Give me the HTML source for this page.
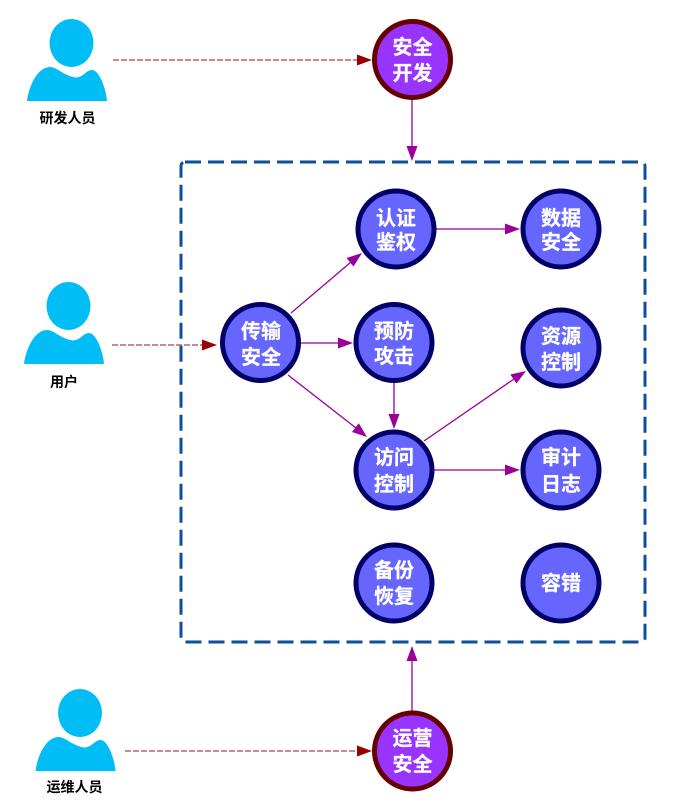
<!DOCTYPE html>
<html><head><meta charset="utf-8"><style>
html,body{margin:0;padding:0;background:#fff}
svg{display:block}
text{font-family:"Liberation Sans","Noto Sans CJK SC",sans-serif;text-anchor:middle}
.n{font-size:20px;font-weight:700;fill:#fff;stroke:#fff;stroke-width:.25}
.l{font-size:14px;font-weight:700;fill:#000}
.c{fill:#6666ff;stroke:#000066;stroke-width:5}
.p{fill:#9933ff;stroke:#660000;stroke-width:5}
.a{stroke:#990099;stroke-width:1.3;fill:none}
.ah{fill:#990099}
.d{stroke:#990000;stroke-width:1.3;stroke-dasharray:6 2;fill:none;opacity:.75}
.dh{fill:#990000}
.b{fill:#00bef5}
</style></head><body>
<svg width="675" height="805" viewBox="0 0 675 805" xmlns="http://www.w3.org/2000/svg">
<defs>
<g id="u">
<ellipse class="b" cx="71.500" cy="43" rx="22" ry="24"/>
<path class="b" d="M27,101 C29,85 38,67 50,67 C57,67 64,76 76,77.500 C84,77 86,70 92,70 C99,70 106,88 107,101 Z"/>
</g>
</defs>
<rect x="181" y="162" width="464" height="480" rx="4" fill="none" stroke="#0b4f9e" stroke-width="3" stroke-dasharray="16 7"/>

<use href="#u"/>
<use href="#u" x="-3" y="263"/>
<use href="#u" x="8.500" y="670"/>
<text class="l" x="67.500" y="123">研发人员</text>
<text class="l" x="64" y="387">用户</text>
<text class="l" x="74.500" y="792">运维人员</text>

<path class="d" d="M113,60H358"/><path class="dh" d="M372,60L357,54.500V65.500Z"/>
<path class="d" d="M112,345H203"/><path class="dh" d="M217,345L202,339.500V350.500Z"/>
<path class="d" d="M125,751H358"/><path class="dh" d="M372,751L357,745.500V756.500Z"/>

<path class="a" d="M412,98V147"/><path class="ah" d="M412,161L406.500,146H417.500Z"/>
<path class="a" d="M412,712V660"/><path class="ah" d="M412,646L406.500,661H417.500Z"/>
<path class="a" d="M291,313L351,262"/><path class="ah" d="M362,253L353.500,266.500L346.500,258Z"/>
<path class="a" d="M298,343H339"/><path class="ah" d="M353,343L338,337.500V348.500Z"/>
<path class="a" d="M288,375L356,428"/><path class="ah" d="M367,437L352,432L358.800,423.300Z"/>
<path class="a" d="M394,382V416"/><path class="ah" d="M394,429L388.500,414H399.500Z"/>
<path class="a" d="M435,229H506"/><path class="ah" d="M520,229L505,223.500V234.500Z"/>
<path class="a" d="M424,441L514,379"/><path class="ah" d="M526,371L516.500,383.500L510.300,374.500Z"/>
<path class="a" d="M433,470H506"/><path class="ah" d="M520,470L505,464.500V475.500Z"/>

<circle class="p" cx="412.500" cy="59.500" r="38"/>
<circle class="p" cx="412.500" cy="751" r="38"/>
<circle class="c" cx="260.500" cy="342.500" r="38"/>
<circle class="c" cx="394" cy="342.500" r="38"/>
<circle class="c" cx="394" cy="470" r="38"/>
<circle class="c" cx="396" cy="229" r="38"/>
<circle class="c" cx="561" cy="229" r="38"/>
<circle class="c" cx="561" cy="348" r="38"/>
<circle class="c" cx="561" cy="470" r="38"/>
<circle class="c" cx="394" cy="583" r="38"/>
<circle class="c" cx="561" cy="583" r="38"/>

<text class="n" x="412.500" y="54">安全</text><text class="n" x="412.500" y="80">开发</text>
<text class="n" x="412.500" y="745">运营</text><text class="n" x="412.500" y="771">安全</text>
<text class="n" x="261" y="338">传输</text><text class="n" x="261" y="364">安全</text>
<text class="n" x="394" y="338">预防</text><text class="n" x="394" y="363">攻击</text>
<text class="n" x="394" y="464">访问</text><text class="n" x="394" y="491">控制</text>
<text class="n" x="396" y="225">认证</text><text class="n" x="396" y="249">鉴权</text>
<text class="n" x="561" y="225">数据</text><text class="n" x="561" y="249">安全</text>
<text class="n" x="561" y="343">资源</text><text class="n" x="561" y="369">控制</text>
<text class="n" x="561" y="464">审计</text><text class="n" x="561" y="491">日志</text>
<text class="n" x="394" y="577">备份</text><text class="n" x="394" y="603">恢复</text>
<text class="n" x="561" y="590">容错</text>
</svg>
</body></html>
